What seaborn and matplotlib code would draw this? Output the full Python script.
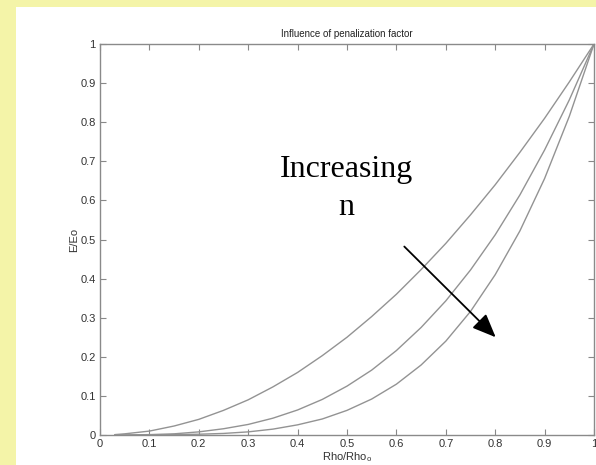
import matplotlib
matplotlib.use("Agg")
import matplotlib.pyplot as plt
import seaborn as sns
import pandas as pd
from matplotlib.patches import Rectangle

# Data
rho = [0.03, 0.05, 0.10, 0.15, 0.20, 0.25, 0.30, 0.35, 0.40, 0.45, 0.50,
       0.55, 0.60, 0.65, 0.70, 0.75, 0.80, 0.85, 0.90, 0.95, 1.00]
curve_n2 = [0.001, 0.003, 0.010, 0.023, 0.040, 0.063, 0.090, 0.123, 0.160, 0.203, 0.250,
            0.303, 0.360, 0.423, 0.490, 0.563, 0.640, 0.723, 0.810, 0.903, 1.000]
curve_n3 = [0.000, 0.000, 0.001, 0.003, 0.008, 0.016, 0.027, 0.043, 0.064, 0.091, 0.125,
            0.166, 0.216, 0.275, 0.343, 0.422, 0.512, 0.614, 0.729, 0.857, 1.000]
curve_n4 = [0.000, 0.000, 0.000, 0.001, 0.002, 0.004, 0.008, 0.015, 0.026, 0.041, 0.063,
            0.092, 0.130, 0.179, 0.240, 0.316, 0.410, 0.522, 0.656, 0.815, 1.000]
series_names = ["n=2", "n=3", "n=4"]
xticks = [0, 0.1, 0.2, 0.3, 0.4, 0.5, 0.6, 0.7, 0.8, 0.9, 1]
yticks = [0, 0.1, 0.2, 0.3, 0.4, 0.5, 0.6, 0.7, 0.8, 0.9, 1]

df = pd.concat([
    pd.DataFrame({"rho": rho, "E": vals, "n": name})
    for name, vals in zip(series_names, [curve_n2, curve_n3, curve_n4])
])

sns.set_theme(style="white")
plt.rcParams["font.family"] = ["Liberation Sans", "DejaVu Sans"]

fig = plt.figure(figsize=(5.96, 4.65), dpi=100, facecolor="#F4F4A8")
bg = fig.add_axes([16 / 596, 0, 1 - 16 / 596, (465 - 7) / 465], zorder=-10)
bg.set_facecolor("white")
bg.set_axis_off()
bg.add_patch(Rectangle((0, 0), 1, 1, transform=bg.transAxes, facecolor="white",
                       edgecolor="none"))

ax = fig.add_axes([100 / 596, (465 - 435) / 465, 494 / 596, 391 / 465], zorder=1)
ax.set_facecolor("white")

sns.lineplot(data=df, x="rho", y="E", hue="n", units="n", estimator=None,
             palette=["#939393"] * 3, linewidth=1.0, legend=False, ax=ax)

ax.set_xlim(0, 1)
ax.set_ylim(0, 1)
ax.set_xticks(xticks)
ax.set_yticks(yticks)
ax.set_xticklabels(["0", "0.1", "0.2", "0.3", "0.4", "0.5", "0.6", "0.7", "0.8", "0.9", "1"])
ax.set_yticklabels(["0", "0.1", "0.2", "0.3", "0.4", "0.5", "0.6", "0.7", "0.8", "0.9", "1"])
ax.tick_params(direction="in", length=4, width=0.8, color="#888888",
               labelsize=8, labelcolor="#333333", top=True, right=True,
               bottom=True, left=True, pad=3)
for s in ax.spines.values():
    s.set_visible(True)
    s.set_color("#8a8a8a")
    s.set_linewidth(1.0)

ax.set_title("Influence of penalization factor", fontsize=7, color="#222222", pad=5)
ax.set_xlabel("Rho/Rho$_\\mathregular{o}$", fontsize=8, color="#333333", labelpad=1)
ax.set_ylabel("E/Eo", fontsize=8, color="#333333", labelpad=1)

ax.text(0.498, 0.63, "Increasing\nn", transform=ax.transAxes, ha="center", va="center",
        fontsize=23, family=["Liberation Serif", "DejaVu Serif"], color="black",
        linespacing=1.4)
ax.annotate("", xy=(0.805, 0.245), xytext=(0.612, 0.487),
            xycoords="data", textcoords="data",
            arrowprops=dict(arrowstyle="-|>,head_length=1.2,head_width=0.5",
                            color="black", lw=1.3))

fig.savefig("out.png", dpi=100, facecolor=fig.get_facecolor())
